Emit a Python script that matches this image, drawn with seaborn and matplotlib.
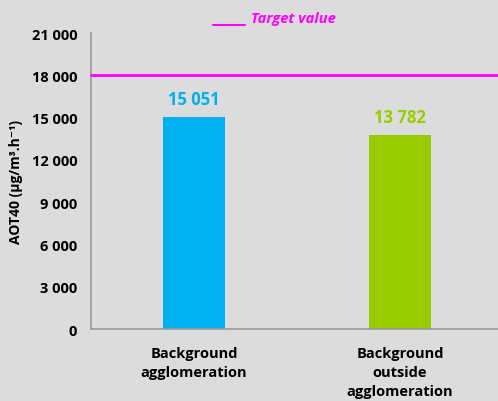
import matplotlib
matplotlib.use("Agg")
import matplotlib.pyplot as plt
import seaborn as sns
import pandas as pd

# data
categories = ["Background\nagglomeration", "Background\noutside\nagglomeration"]
values = [15051, 13782]
value_labels = ["15 051", "13 782"]
bar_colors = ["#00b0f0", "#99cc00"]
target = 18000
yticks = [0, 3000, 6000, 9000, 12000, 15000, 18000, 21000]
ytick_labels = ["0", "3 000", "6 000", "9 000", "12 000", "15 000", "18 000", "21 000"]

sns.set_style("white")
plt.rcParams['font.family'] = ['Open Sans', 'DejaVu Sans']
bg = "#dcdcdc"

fig = plt.figure(figsize=(4.98, 4.02), dpi=100, facecolor=bg)
ax = fig.add_axes([0.183, 0.179, 0.827, 0.736])
ax.set_facecolor(bg)

df = pd.DataFrame({"cat": categories, "val": values})
sns.barplot(data=df, x="cat", y="val", hue="cat", palette=bar_colors,
            width=0.3, legend=False, ax=ax, saturation=1,
            edgecolor="none", linewidth=0)

ax.axhline(target, color="#ff00ff", linewidth=2, clip_on=False, zorder=5)

for i, (v, lab) in enumerate(zip(values, value_labels)):
    ax.text(i, v + 650, lab, ha="center", va="bottom", color=bar_colors[i],
            fontsize=12, fontweight="bold")

ax.set_ylim(0, 21000)
ax.set_xlim(-0.5, 1.5)
ax.set_yticks(yticks)
ax.set_yticklabels(ytick_labels, fontsize=10.5, fontweight="bold", color="black")
ax.set_xticks([0, 1])
ax.set_xticklabels(categories, fontsize=10.5, fontweight="bold", color="black",
                   linespacing=1.45)
ax.set_xticks([0.5], minor=True)
ax.tick_params(axis="x", which="major", length=0, pad=12)
ax.tick_params(axis="x", which="minor", length=4, color="#999999")
ax.tick_params(axis="y", length=4, color="#999999", pad=6)
ax.set_xlabel("")
ax.set_ylabel("AOT40 (µg/m³.h⁻¹)", fontsize=10, fontweight="bold", color="black",
              labelpad=6)

for s in ["top", "right"]:
    ax.spines[s].set_visible(False)
for s in ["left", "bottom"]:
    ax.spines[s].set_color("#999999")
    ax.spines[s].set_linewidth(1.2)

# legend
fig.lines.append(plt.Line2D([213 / 498, 245 / 498], [1 - 26 / 402, 1 - 26 / 402],
                            color="#ff00ff", linewidth=1.5, transform=fig.transFigure))
fig.text(251 / 498, 1 - 19 / 402, "Target value", color="#ff00ff", fontsize=10.5,
         fontweight="bold", fontstyle="italic", va="center", ha="left")

fig.savefig("out.png", dpi=100, facecolor=bg)
